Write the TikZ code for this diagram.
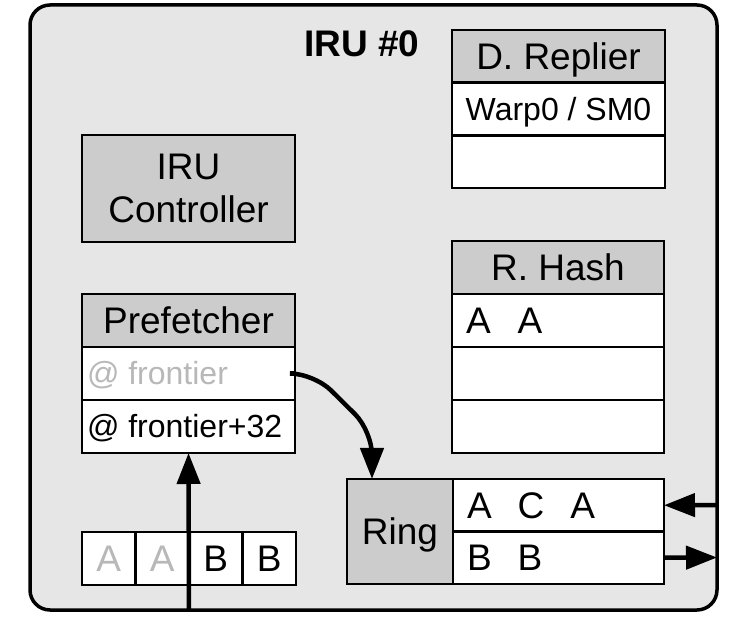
\documentclass[tikz,border=0pt]{standalone}
\usepackage{fontspec}
\setmainfont{Liberation Sans}
\usetikzlibrary{arrows.meta}
\definecolor{bgray}{HTML}{E6E6E6}
\definecolor{hgray}{HTML}{CCCCCC}
\definecolor{tgray}{HTML}{B8B8B8}
\tikzset{
  cellbox/.style={draw=black, line width=2.6pt, fill=white, inner sep=0pt, outer sep=0pt, anchor=north west},
  hdrcell/.style={cellbox, fill=hgray},
  bigtext/.style={font=\fontsize{37}{44}\selectfont, text height=26.5pt, text depth=0pt},
  smalltext/.style={font=\fontsize{32}{38}\selectfont, text height=23pt, text depth=0pt},
  lbl/.style={inner sep=0pt, outer sep=0pt, anchor=west},
  arr/.style={line width=4.5pt, -{Triangle[length=31pt,width=23pt]}},
}
\begin{document}
\begin{tikzpicture}[x=1pt,y=-1pt]
\useasboundingbox (0,0) rectangle (748,644);
% outer unit
\draw[line width=3.5pt, fill=bgray, rounded corners=20pt] (30,5) rectangle (717,610);
\node[font=\bfseries\fontsize{37}{44}\selectfont, text height=26.5pt, text depth=0pt, inner sep=0pt] (title) at (362,43) {IRU \#0};

% D. Replier
\node[hdrcell, bigtext, minimum width=213pt, minimum height=52.7pt] (drh) at (452,30) {D. Replier};
\node[cellbox, smalltext, minimum width=213pt, minimum height=52.7pt] (dr1) at (drh.south west) {Warp0 / SM0};
\node[cellbox, minimum width=213pt, minimum height=52.7pt] (dr2) at (dr1.south west) {};

% IRU Controller
\node[hdrcell, minimum width=213pt, minimum height=107pt] (ctrl) at (82,135) {};
\node[font=\fontsize{37}{43}\selectfont, align=center, inner sep=0pt] (ctrlt) at (ctrl.center) {IRU\\Controller};

% R. Hash
\node[hdrcell, bigtext, minimum width=212pt, minimum height=53pt] (rhh) at (452,241) {R. Hash};
\node[cellbox, minimum width=212pt, minimum height=53pt] (rh1) at (rhh.south west) {};
\node[cellbox, minimum width=212pt, minimum height=53pt] (rh2) at (rh1.south west) {};
\node[cellbox, minimum width=212pt, minimum height=53pt] (rh3) at (rh2.south west) {};
\node[lbl, bigtext] (rh1t) at ([xshift=14pt]rh1.west) {A\hspace{27pt}A};

% Prefetcher
\node[hdrcell, bigtext, minimum width=213pt, minimum height=53pt] (pfh) at (82,294) {Prefetcher};
\node[cellbox, minimum width=213pt, minimum height=53pt] (pf1) at (pfh.south west) {};
\node[cellbox, minimum width=213pt, minimum height=53pt] (pf2) at (pf1.south west) {};
\node[lbl, smalltext, text=tgray] (pf1t) at ([xshift=5pt]pf1.west) {@ frontier};
\node[lbl, smalltext] (pf2t) at ([xshift=5pt]pf2.west) {@ frontier+32};

% Ring
\node[hdrcell, bigtext, minimum width=106pt, minimum height=105pt] (ring) at (347,479) {Ring};
\node[cellbox, minimum width=211pt, minimum height=52.5pt] (rr1) at (ring.north east) {};
\node[cellbox, minimum width=211pt, minimum height=52.5pt] (rr2) at (rr1.south west) {};
\node[lbl, bigtext] (rr1t) at ([xshift=14pt]rr1.west) {A\hspace{26pt}C\hspace{26pt}A};
\node[lbl, bigtext] (rr2t) at ([xshift=14pt]rr2.west) {B\hspace{26pt}B};

% small queue boxes
\node[cellbox, bigtext, text=tgray, minimum width=53.5pt, minimum height=53pt] (q1) at (82,532) {A};
\node[cellbox, bigtext, text=tgray, minimum width=53.5pt, minimum height=53pt] (q2) at (q1.north east) {A};
\node[cellbox, bigtext, minimum width=53.5pt, minimum height=53pt] (q3) at (q2.north east) {B};
\node[cellbox, bigtext, minimum width=53.5pt, minimum height=53pt] (q4) at (q3.north east) {B};

% connectors
\coordinate (bin) at (189,610);
\coordinate (inR) at (717,505);
\coordinate (outR) at (717,557.5);
\coordinate (c1) at (314,373.5);
\coordinate (c2) at (372,431);
\draw[arr] (bin) -- (pf2.south);
\draw[arr, rounded corners=24pt] (pf1.east) -- (c1) -- (c2) -- ([xshift=25pt]ring.north west);
\draw[arr] (inR) -- (rr1.east);
\draw[arr] (rr2.east) -- (outR);
\end{tikzpicture}
\end{document}
